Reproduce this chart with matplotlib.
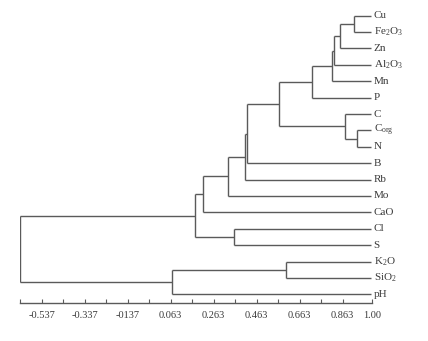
import matplotlib
matplotlib.use('Agg')
import matplotlib.pyplot as plt

plt.rcParams['font.family'] = 'Liberation Serif'
plt.rcParams['mathtext.fontset'] = 'custom'
plt.rcParams['mathtext.rm'] = 'Liberation Serif'
plt.rcParams['mathtext.it'] = 'Liberation Serif'

# leaves, top to bottom
leaves = ['Cu', 'Fe$_2$O$_3$', 'Zn', 'Al$_2$O$_3$', 'Mn', 'P', 'C', 'C$_{org}$', 'N',
          'B', 'Rb', 'Mo', 'CaO', 'Cl', 'S', 'K$_2$O', 'SiO$_2$', 'pH']
leaf_x = 0.995

# merges: (left child, right child, height); children are leaf index or 'n<k>'
merges = [
    (0, 1, 0.915),        # n0  Cu + Fe2O3
    ('n0', 2, 0.850),     # n1  + Zn
    ('n1', 3, 0.822),     # n2  + Al2O3
    ('n2', 4, 0.813),     # n3  + Mn
    ('n3', 5, 0.720),     # n4  + P
    (7, 8, 0.930),        # n5  Corg + N
    (6, 'n5', 0.873),     # n6  C + (Corg, N)
    ('n4', 'n6', 0.569),  # n7
    ('n7', 9, 0.420),     # n8  + B
    ('n8', 10, 0.411),    # n9  + Rb
    ('n9', 11, 0.331),    # n10 + Mo
    ('n10', 12, 0.215),   # n11 + CaO
    (13, 14, 0.359),      # n12 Cl + S
    ('n11', 'n12', 0.176),  # n13
    (15, 16, 0.602),      # n14 K2O + SiO2
    ('n14', 17, 0.068),   # n15 + pH
    ('n13', 'n15', -0.637),  # n16 root
]

tick_pos = [-0.637 + 0.1 * k for k in range(16)] + [1.00]
tick_lab = ['', '-0.537', '', '-0.337', '', '-0137', '', '0.063', '', '0.263', '',
            '0.463', '', '0.663', '', '0.863', '1.00']

fig = plt.figure(figsize=(4.28, 3.41), dpi=100)
W, H = 428, 341
ax = fig.add_axes([20 / W, (H - 303) / H, (372 - 20) / W, (303 - 5) / H])

line_c = '#5a5a5a'
text_c = '#3a3a3a'
lw = 1.0

pos = {}
for i, name in enumerate(leaves):
    pos[i] = (leaf_x, i)

for k, (a, b, h) in enumerate(merges):
    xa, ya = pos[a]
    xb, yb = pos[b]
    ax.plot([xa, h], [ya, ya], color=line_c, lw=lw, solid_capstyle='butt')
    ax.plot([xb, h], [yb, yb], color=line_c, lw=lw, solid_capstyle='butt')
    ax.plot([h, h], [ya, yb], color=line_c, lw=lw, solid_capstyle='butt')
    pos['n%d' % k] = (h, (ya + yb) / 2)

for i, name in enumerate(leaves):
    ax.text(leaf_x + 0.012, i, name, va='center', ha='left', fontsize=8, color=text_c)

ax.set_xlim(-0.637, 1.00)
ax.set_ylim(17.53, -0.653)
for s in ['top', 'right', 'left']:
    ax.spines[s].set_visible(False)
ax.spines['bottom'].set_color(line_c)
ax.spines['bottom'].set_linewidth(1.0)
ax.set_yticks([])
ax.set_xticks(tick_pos)
ax.set_xticklabels(tick_lab, fontsize=7.5, color=text_c)
ax.tick_params(axis='x', direction='in', length=3, width=0.8, color=line_c, pad=6)

fig.savefig('out.png', dpi=100)
